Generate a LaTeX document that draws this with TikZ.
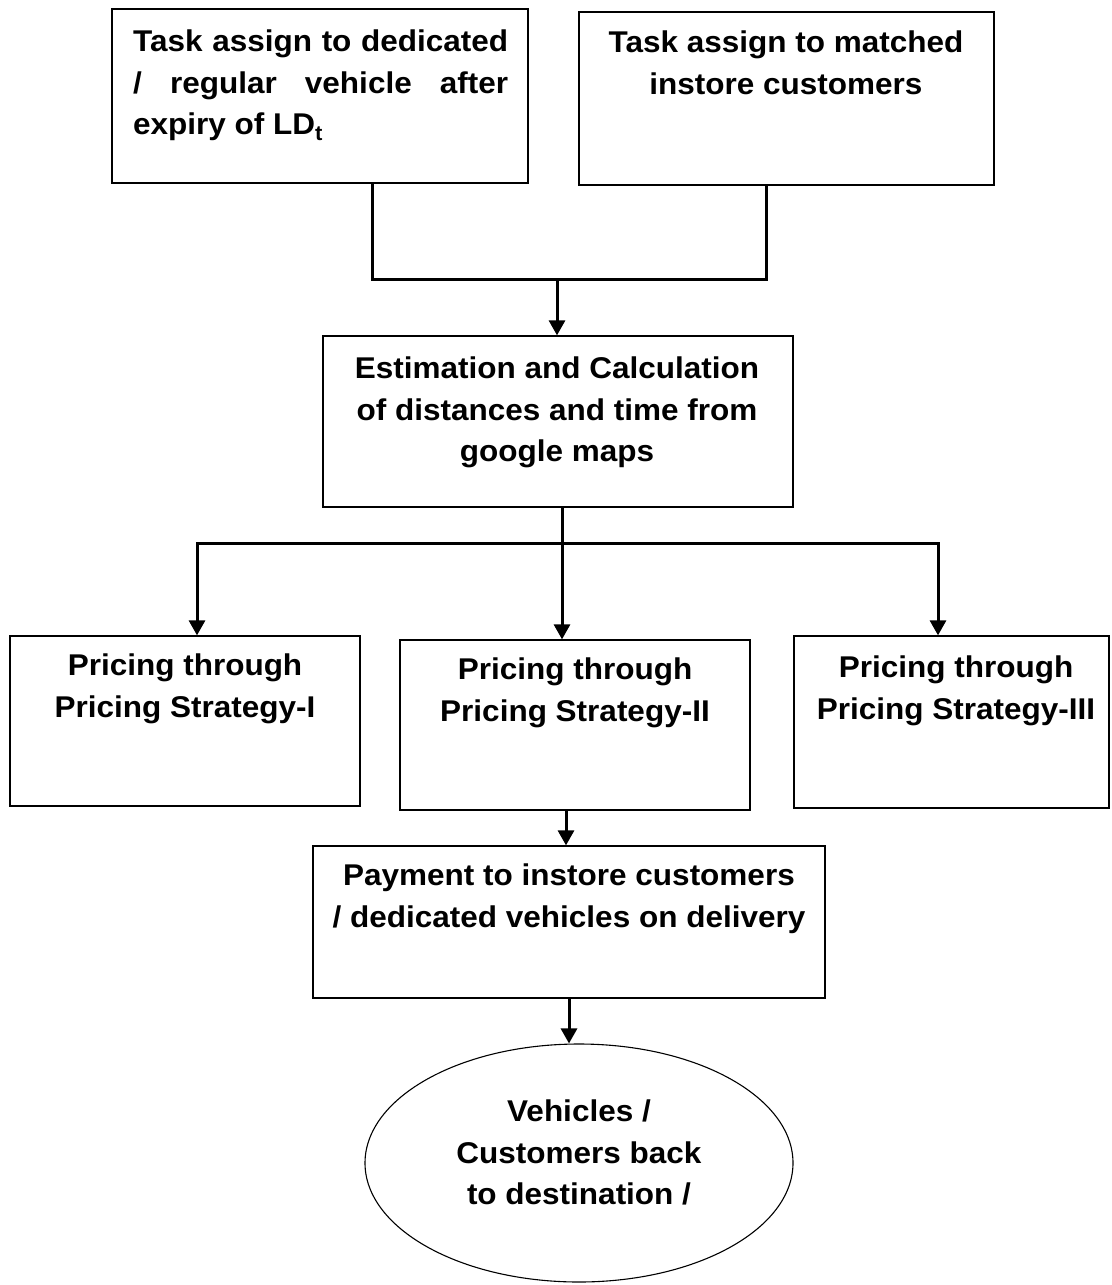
\documentclass[tikz,border=0pt]{standalone}
\usepackage{fontspec}
\setmainfont{Liberation Sans}[FakeStretch=1.05]
\usetikzlibrary{arrows.meta,shapes.geometric}
\tikzset{
  box/.style={draw, line width=1.3pt, inner sep=0pt},
  oval/.style={draw, ellipse, line width=1.1pt, inner sep=0pt},
  txt/.style={font=\fontsize{30}{41.5}\selectfont\bfseries, align=center, inner sep=0pt},
  conn/.style={line width=3pt},
  arr/.style={conn, -{Triangle[length=15pt,width=16pt]}}
}
\begin{document}
\begin{tikzpicture}[x=1pt,y=-1pt]
\useasboundingbox (0,0) rectangle (1111,1285);
% boxes
\node[box, minimum width=416pt, minimum height=174pt] (b1) at (320,96) {};
\node[box, minimum width=415pt, minimum height=173pt] (b2) at (786.5,98.5) {};
\node[box, minimum width=470pt, minimum height=171pt] (b3) at (558,421.5) {};
\node[box, minimum width=350pt, minimum height=170pt] (b4) at (185,721) {};
\node[box, minimum width=350pt, minimum height=170pt] (b5) at (575,725) {};
\node[box, minimum width=315pt, minimum height=172pt] (b6) at (951.5,722) {};
\node[box, minimum width=512pt, minimum height=152pt] (b7) at (569,922) {};
\node[oval, minimum width=428pt, minimum height=238pt] (e) at (579,1163) {};
% texts
\node[txt, anchor=north west, align=left] (t1) at (133,30)
  {\makebox[375pt][s]{Task assign to dedicated}\\
   \makebox[375pt][s]{/ regular vehicle after}\\
   expiry of LD\textsubscript{t}};
\node[txt, anchor=north] (t2) at (786,31) {Task assign to matched\\instore customers};
\node[txt, anchor=north] (t3) at (557,357) {Estimation and Calculation\\of distances and time from\\google maps};
\node[txt, anchor=north] (t4) at (185,654) {Pricing through\\Pricing Strategy-I};
\node[txt, anchor=north] (t5) at (575,658) {Pricing through\\Pricing Strategy-II};
\node[txt, anchor=north] (t6) at (956,656) {Pricing through\\Pricing Strategy-III};
\node[txt, anchor=north] (t7) at (569,864) {Payment to instore customers\\/ dedicated vehicles on delivery};
\node[txt, anchor=north] (t8) at (579,1100) {Vehicles /\\Customers back\\to destination /};
% helper coordinates
\coordinate (x1) at (372,0);
\coordinate (x2) at (766,0);
\coordinate (m1) at (557,279);
\coordinate (m2) at (562,543);
\coordinate (xl) at (197,0);
\coordinate (xr) at (938,0);
\coordinate (x5) at (566,0);
\coordinate (x7) at (569,0);
% connectors
\draw[conn] (b1.south -| x1) |- (m1) -| (b2.south -| x2);
\draw[arr] (m1) -- (b3.north -| m1);
\draw[conn] (b3.south -| m2) -- (m2);
\draw[arr] (m2) -| (b4.north -| xl);
\draw[arr] (m2) -| (b6.north -| xr);
\draw[arr] (m2) -- (b5.north -| m2);
\draw[arr] (b5.south -| x5) -- (b7.north -| x5);
\draw[arr] (b7.south -| x7) -- (e.north -| x7);
\end{tikzpicture}
\end{document}
